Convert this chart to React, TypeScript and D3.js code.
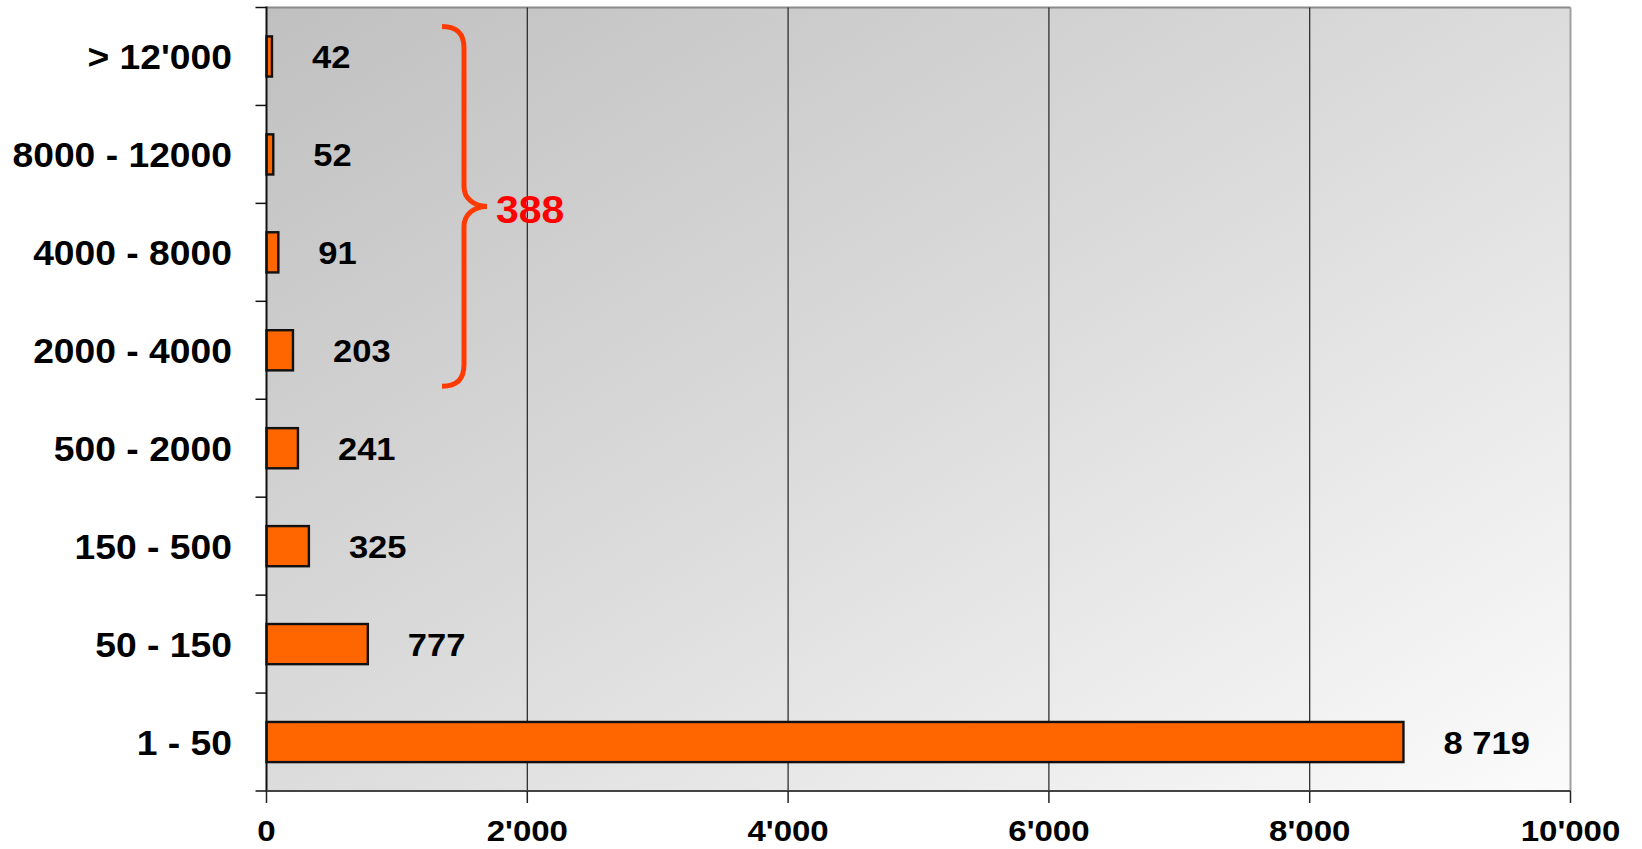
import React from "react";
import * as d3 from "d3";

const categories = ["> 12'000", "8000 - 12000", "4000 - 8000", "2000 - 4000", "500 - 2000", "150 - 500", "50 - 150", "1 - 50"];
const values = [42, 52, 91, 203, 241, 325, 777, 8719];
const xTicks = [0, 2000, 4000, 6000, 8000, 10000];
const bracketCategories = ["> 12'000", "8000 - 12000", "4000 - 8000", "2000 - 4000"];

const W = 1642;
const H = 849;
const plot = { left: 266.5, right: 1570.5, top: 7.5, bottom: 791 };

const x = d3.scaleLinear().domain([0, 10000]).range([plot.left, plot.right]);
const y = d3.scaleBand<string>().domain(categories).range([plot.top, plot.bottom]).paddingInner(0.59).paddingOuter(0.295);

const tickFmt = d3.formatLocale({ decimal: ".", thousands: "'", grouping: [3], currency: ["", ""] }).format(",");
const valFmt = d3.formatLocale({ decimal: ".", thousands: " ", grouping: [3], currency: ["", ""] }).format(",");

const FONT = "Arial, 'Liberation Sans', Helvetica, sans-serif";

function SText({ x, y, sx, size, anchor, fill = "#000", children }: any) {
  return (
    <g transform={`translate(${x},${y}) scale(${sx},1)`}>
      <text x={0} y={0} textAnchor={anchor} fontFamily={FONT} fontWeight="bold" fontSize={size} fill={fill}>
        {children}
      </text>
    </g>
  );
}

export default function App() {
  const step = y.step();
  const groupTotal = d3.sum(bracketCategories.map((c) => values[categories.indexOf(c)]));
  const bTop = (y(bracketCategories[0]) as number) - (step - y.bandwidth()) / 2 + 19;
  const bBot = (y(bracketCategories[bracketCategories.length - 1]) as number) + y.bandwidth() + (step - y.bandwidth()) / 2 - 13;
  const bMid = (bTop + bBot) / 2;
  const bx0 = 442;
  const bx1 = 464;
  const bx2 = 487;
  const r = 22;
  const bracketPath = [
    `M ${bx0} ${bTop}`,
    `C ${bx0 + 16} ${bTop} ${bx1} ${bTop + 8} ${bx1} ${bTop + r}`,
    `L ${bx1} ${bMid - r + 2}`,
    `C ${bx1} ${bMid - 8} ${bx1 + 10} ${bMid} ${bx2} ${bMid}`,
    `C ${bx1 + 10} ${bMid} ${bx1} ${bMid + 8} ${bx1} ${bMid + r - 2}`,
    `L ${bx1} ${bBot - r}`,
    `C ${bx1} ${bBot - 8} ${bx0 + 16} ${bBot} ${bx0} ${bBot}`,
  ].join(" ");

  return (
    <svg width={W} height={H} style={{ position: "absolute", left: 0, top: 0, display: "block", background: "#fff" }}>
      <defs>
        <linearGradient id="bg" x1="0" y1="0" x2="1" y2="1">
          <stop offset="0" stopColor="#c0c0c0" />
          <stop offset="0.5" stopColor="#dcdcdc" />
          <stop offset="1" stopColor="#fbfbfb" />
        </linearGradient>
      </defs>
      <rect x={plot.left} y={plot.top} width={plot.right - plot.left} height={plot.bottom - plot.top} fill="url(#bg)" />
      <line x1={plot.left} x2={plot.right} y1={plot.top} y2={plot.top} stroke="#8a8a8a" strokeWidth={2} />
      <line x1={plot.right} x2={plot.right} y1={plot.top} y2={plot.bottom} stroke="#a0a0a0" strokeWidth={2} />
      {xTicks.filter((t) => t > 0 && t < 10000).map((t) => (
        <line key={t} x1={x(t)} x2={x(t)} y1={plot.top} y2={plot.bottom} stroke="#222" strokeWidth={1.2} />
      ))}
      {categories.map((c, i) => (
        <rect key={c} x={x(0)} y={y(c)} width={x(values[i]) - x(0)} height={y.bandwidth()} fill="#ff6600" stroke="#111" strokeWidth={2.4} />
      ))}
      {categories.map((c, i) => (
        <SText key={c} x={x(values[i]) + 40} y={(y(c) as number) + y.bandwidth() / 2 + 12} sx={1.08} size={32} anchor="start">
          {valFmt(values[i])}
        </SText>
      ))}
      <line x1={plot.left} x2={plot.left} y1={plot.top - 1} y2={plot.bottom} stroke="#111" strokeWidth={2} />
      {d3.range(categories.length + 1).map((i) => {
        const yy = plot.top + i * step;
        return <line key={i} x1={plot.left - 11} x2={plot.left} y1={yy} y2={yy} stroke="#111" strokeWidth={1.5} />;
      })}
      {categories.map((c) => (
        <SText key={c} x={232} y={(y(c) as number) + y.bandwidth() / 2 + 12.5} sx={1.035} size={36} anchor="end">
          {c}
        </SText>
      ))}
      <line x1={plot.left} x2={plot.right} y1={plot.bottom} y2={plot.bottom} stroke="#444" strokeWidth={2} />
      {xTicks.map((t) => (
        <g key={t}>
          <line x1={x(t)} x2={x(t)} y1={plot.bottom} y2={plot.bottom + 12} stroke="#222" strokeWidth={1.5} />
          <SText x={x(t)} y={841} sx={1.1} size={30} anchor="middle">
            {tickFmt(t)}
          </SText>
        </g>
      ))}
      <path d={bracketPath} fill="none" stroke="#ff3a00" strokeWidth={5} strokeLinejoin="miter" />
      <SText x={496} y={223} sx={1.05} size={39} anchor="start" fill="#ff0000">
        {groupTotal}
      </SText>
    </svg>
  );
}
